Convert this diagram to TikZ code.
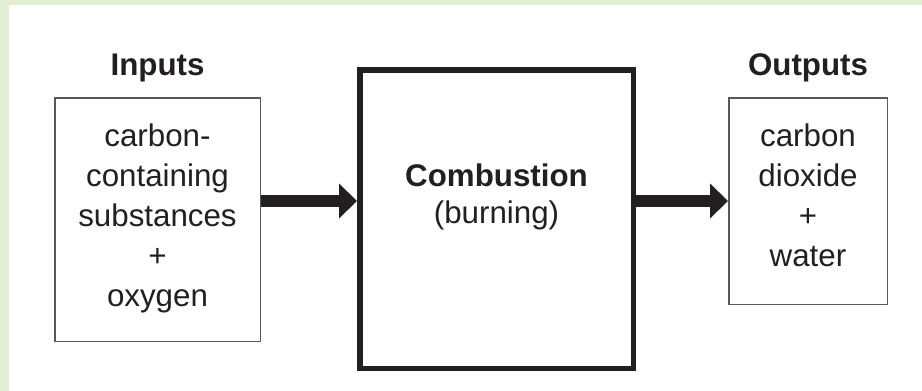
\documentclass[tikz,border=0pt]{standalone}
\usepackage{fontspec}
\setmainfont{Liberation Sans}
\usetikzlibrary{arrows.meta}
\definecolor{panelgreen}{RGB}{226,239,214}
\definecolor{ink}{RGB}{35,31,32}
\definecolor{thinframe}{RGB}{88,88,88}

\begin{document}
\begin{tikzpicture}[x=1pt,y=-1pt,
  every node/.style={inner sep=0pt, text=ink},
  thinbox/.style={draw=thinframe, line width=1.5pt, fill=white},
  thickbox/.style={draw=ink, line width=5.5pt, fill=white},
  bodytext/.style={font=\fontsize{31.3}{40}\selectfont, anchor=base},
  heading/.style={font=\fontsize{31.3}{40}\selectfont\bfseries, anchor=base},
  flow/.style={draw=ink, line width=12pt,
    -{Triangle[length=18pt,width=35pt,line width=0pt]}}
]
% panel: green edge on top and left, white body
\useasboundingbox (0,0) rectangle (922,391);
\fill[panelgreen] (0,0) rectangle (922,391);
\fill[white] (9,5) rectangle (922,391);

% boxes
\node[thinbox, minimum width=205.5pt, minimum height=243.5pt] (inbox) at (157.5,219.5) {};
\node[thickbox, minimum width=273.5pt, minimum height=298.5pt] (midbox) at (496.5,219) {};
\node[thinbox, minimum width=158.5pt, minimum height=206.5pt] (outbox) at (808,201) {};

% headings
\node[heading] (inhead) at (157.5,75) {Inputs};
\node[heading] (outhead) at (808,75) {Outputs};

% inputs text
\foreach \txt [count=\i] in {carbon-, containing, substances, +, oxygen}
  \node[bodytext] (in\i) at (157.5,106.5+40*\i) {\txt};

% combustion text
\node[heading] (comb) at (496.5,186.7) {Combustion};
\node[bodytext] (burn) at (496.5,223) {(burning)};

% outputs text
\foreach \txt [count=\i] in {carbon, dioxide, +, water}
  \node[bodytext] (out\i) at (808,106+40*\i) {\txt};

% flow arrows
\draw[flow] (inbox.east |- outbox.west) -- (midbox.west |- outbox.west);
\draw[flow] (midbox.east |- outbox.west) -- (outbox.west);
\end{tikzpicture}
\end{document}
